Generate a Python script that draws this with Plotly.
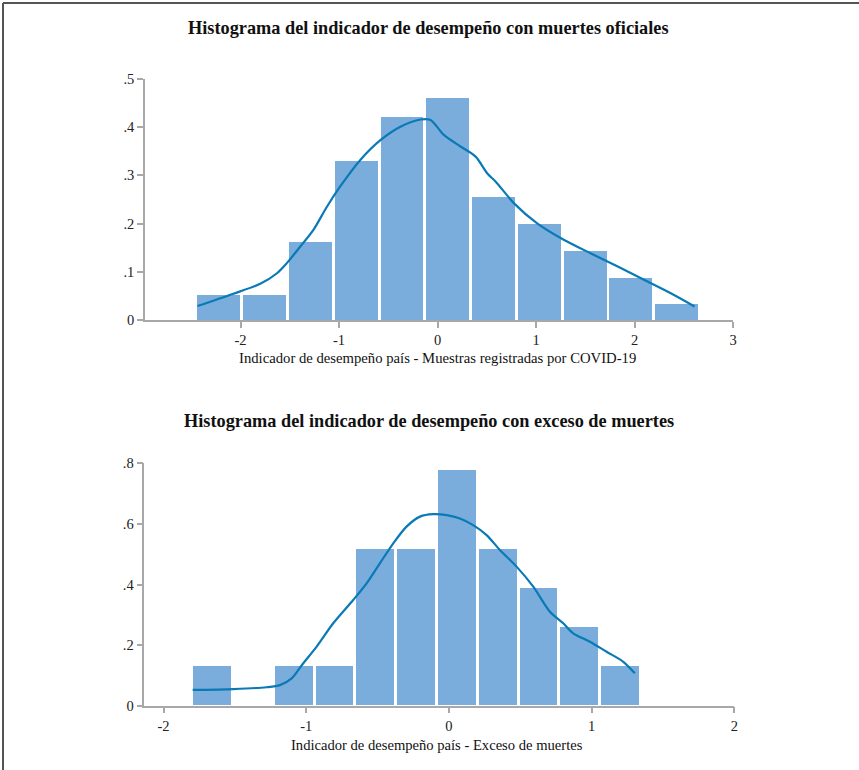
import plotly.graph_objects as go

# ---------------- Data ----------------
# Top histogram: official deaths
top_bin_start = -2.454
top_bin_width = 0.465
top_density = [0.052, 0.052, 0.162, 0.330, 0.421, 0.461, 0.255, 0.199, 0.143, 0.087, 0.033]

top_kde_x = [-2.437, -2.08, -1.80, -1.63, -1.53, -1.395, -1.26, -1.123, -0.988, -0.784,
             -0.580, -0.377, -0.173, -0.071, 0.064, 0.234, 0.387, 0.506, 0.591, 0.777,
             1.015, 1.286, 1.558, 1.830, 2.101, 2.373, 2.610]
top_kde_y = [0.029, 0.054, 0.075, 0.097, 0.118, 0.152, 0.187, 0.235, 0.277, 0.332,
             0.373, 0.401, 0.416, 0.415, 0.384, 0.360, 0.339, 0.304, 0.287, 0.242,
             0.200, 0.166, 0.138, 0.111, 0.083, 0.055, 0.028]

# Bottom histogram: excess deaths
bot_bin_start = -1.801
bot_bin_width = 0.286
bot_density = [0.129, 0.0, 0.129, 0.129, 0.517, 0.517, 0.776, 0.517, 0.388, 0.259, 0.129]

bot_kde_x = [-1.796, -1.511, -1.278, -1.184, -1.102, -1.021, -0.927, -0.811, -0.671, -0.577,
             -0.484, -0.390, -0.297, -0.203, -0.110, -0.016, 0.077, 0.170, 0.264, 0.357,
             0.474, 0.591, 0.708, 0.801, 0.871, 0.988, 1.105, 1.222, 1.303]
bot_kde_y = [0.052, 0.055, 0.061, 0.068, 0.090, 0.140, 0.195, 0.272, 0.349, 0.404,
             0.470, 0.536, 0.591, 0.624, 0.632, 0.629, 0.618, 0.596, 0.563, 0.514,
             0.459, 0.393, 0.310, 0.272, 0.239, 0.211, 0.178, 0.145, 0.107]

top_title = "Histograma del indicador de desempeño con muertes oficiales"
bot_title = "Histograma del indicador de desempeño con exceso de muertes"
top_xlabel = "Indicador de desempeño país - Muestras registradas por COVID-19"
bot_xlabel = "Indicador de desempeño país - Exceso de muertes"

top_xticks = [-2, -1, 0, 1, 2, 3]
top_yticks = [0, 0.1, 0.2, 0.3, 0.4, 0.5]
top_yticklabels = ["0", ".1", ".2", ".3", ".4", ".5"]
bot_xticks = [-2, -1, 0, 1, 2]
bot_yticks = [0, 0.2, 0.4, 0.6, 0.8]
bot_yticklabels = ["0", ".2", ".4", ".6", ".8"]

# ---------------- Figure ----------------
W, H = 859, 770
BAR_COLOR = "#7aacdc"
LINE_COLOR = "#0a7ab6"
AXIS_COLOR = "#a8a8a8"
FONT = "Liberation Serif"

top_centers = [top_bin_start + (i + 0.5) * top_bin_width for i in range(len(top_density))]
bot_centers = [bot_bin_start + (i + 0.5) * bot_bin_width for i in range(len(bot_density))]

fig = go.Figure()
fig.add_trace(go.Bar(x=top_centers, y=top_density, width=top_bin_width - 0.03,
                     marker=dict(color=BAR_COLOR, line=dict(width=0)),
                     xaxis="x", yaxis="y", showlegend=False, hoverinfo="skip"))
fig.add_trace(go.Scatter(x=top_kde_x, y=top_kde_y, mode="lines",
                         line=dict(color=LINE_COLOR, width=2.2, shape="spline", smoothing=0.8),
                         xaxis="x", yaxis="y", showlegend=False, hoverinfo="skip"))
fig.add_trace(go.Bar(x=bot_centers, y=bot_density, width=bot_bin_width - 0.021,
                     marker=dict(color=BAR_COLOR, line=dict(width=0)),
                     xaxis="x2", yaxis="y2", showlegend=False, hoverinfo="skip"))
fig.add_trace(go.Scatter(x=bot_kde_x, y=bot_kde_y, mode="lines",
                         line=dict(color=LINE_COLOR, width=2.2, shape="spline", smoothing=0.8),
                         xaxis="x2", yaxis="y2", showlegend=False, hoverinfo="skip"))

axis_common = dict(showgrid=False, zeroline=False, showline=True, linecolor=AXIS_COLOR,
                   linewidth=1.5, ticks="outside", ticklen=6, tickcolor=AXIS_COLOR,
                   tickwidth=1.5, automargin=False,
                   tickfont=dict(family=FONT, size=14.5, color="#222"))

fig.update_layout(
    width=W, height=H, autosize=False,
    margin=dict(l=0, r=0, t=0, b=0, pad=0),
    paper_bgcolor="white", plot_bgcolor="white",
    bargap=0,
    font=dict(family=FONT, color="#222"),
    xaxis=dict(domain=[145 / W, 733 / W], range=[-2.97, 3.0], tickvals=top_xticks,
               ticktext=[str(v) for v in top_xticks], anchor="y", **axis_common),
    yaxis=dict(domain=[1 - 320 / H, 1 - 79 / H], range=[0, 0.5], tickvals=top_yticks,
               ticktext=top_yticklabels, anchor="x", **axis_common),
    xaxis2=dict(domain=[144.3 / W, 734.3 / W], range=[-2.135, 2.0], tickvals=bot_xticks,
                ticktext=[str(v) for v in bot_xticks], anchor="y2", **axis_common),
    yaxis2=dict(domain=[1 - 705.7 / H, 1 - 463.3 / H], range=[0, 0.8], tickvals=bot_yticks,
                ticktext=bot_yticklabels, anchor="x2", **axis_common),
)

ann = [
    dict(text="<b>" + top_title + "</b>", x=428 / W, y=1 - 28 / H, size=18.3),
    dict(text=top_xlabel, x=437 / W, y=1 - 358 / H, size=14.7),
    dict(text="<b>" + bot_title + "</b>", x=429 / W, y=1 - 421 / H, size=18.3),
    dict(text=bot_xlabel, x=437 / W, y=1 - 745 / H, size=14.6),
]
for a in ann:
    fig.add_annotation(xref="paper", yref="paper", xanchor="center", yanchor="middle",
                       showarrow=False, text=a["text"], x=a["x"], y=a["y"],
                       font=dict(family=FONT, color="#111", size=a["size"]))

# Outer frame (top and left edges)
fig.add_shape(type="line", xref="paper", yref="paper", x0=3 / W, x1=1, y0=1 - 3 / H, y1=1 - 3 / H,
              line=dict(color="#555", width=2))
fig.add_shape(type="line", xref="paper", yref="paper", x0=3 / W, x1=3 / W, y0=0, y1=1 - 3 / H,
              line=dict(color="#555", width=2))

fig.write_html("out.html", config={"displayModeBar": False},
               post_script="document.body.style.margin='0';")
